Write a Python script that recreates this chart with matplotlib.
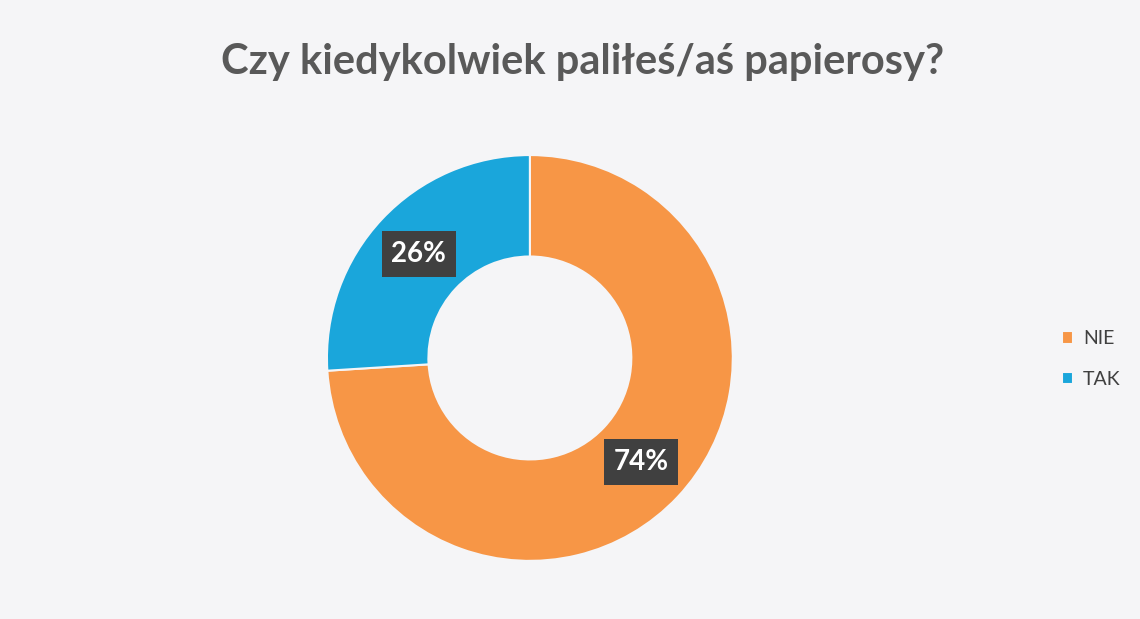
import matplotlib
matplotlib.use("Agg")
import matplotlib.pyplot as plt

categories = ["NIE", "TAK"]
shares = [74, 26]
colors = ["#F79646", "#1AA6DB"]

plt.rcParams['font.family'] = ['Lato', 'DejaVu Sans']

fig = plt.figure(figsize=(11.4, 6.19), dpi=100)
fig.patch.set_facecolor("#F5F5F7")

ax = fig.add_axes([0.2868, 0.0937, 0.356, 0.656])
ax.set_facecolor("none")

wedges, texts, autotexts = ax.pie(
    shares, colors=colors, startangle=90, counterclock=False,
    autopct=lambda p: f"{p:.0f}%", pctdistance=0.75,
    wedgeprops=dict(width=0.5, edgecolor="#F5F5F7", linewidth=1.5),
    radius=1.0,
)
for t in autotexts:
    t.set_color("white")
    t.set_fontsize(20)
    t.set_fontweight("bold")
    t.set_bbox(dict(boxstyle="square,pad=0.35", facecolor="#404040", edgecolor="none"))
ax.set_xlim(-1, 1)
ax.set_ylim(-1, 1)
ax.set_aspect("equal")

fig.text(0.511, 0.9, "Czy kiedykolwiek paliłeś/aś papierosy?",
         ha="center", va="center", fontsize=30, fontweight="bold", color="#595959")

fig.legend(wedges, categories, loc="center left", bbox_to_anchor=(0.916, 0.42),
           frameon=False, fontsize=14, handlelength=0.6, handleheight=0.6,
           labelspacing=1.2, handletextpad=0.5, labelcolor="#404040")

fig.savefig("out.png", dpi=100, facecolor=fig.get_facecolor())
